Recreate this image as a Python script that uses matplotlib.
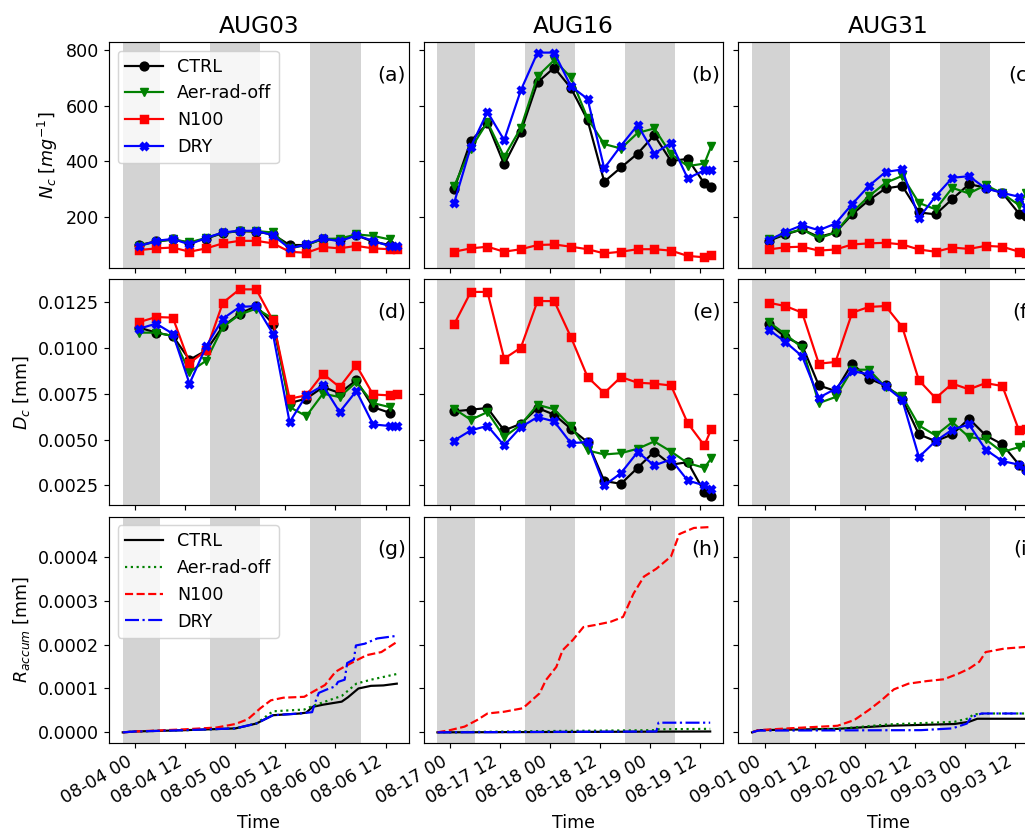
import datetime as dt
import matplotlib
matplotlib.use('Agg')
import matplotlib.pyplot as plt
import matplotlib.dates as mdates

plt.rcParams['font.size'] = 12

cases = ['AUG03', 'AUG16', 'AUG31']
day0 = [dt.datetime(2016, 8, 4), dt.datetime(2016, 8, 17), dt.datetime(2016, 9, 1)]
runs = ['CTRL', 'Aer-rad-off', 'N100', 'DRY']
colors = ['k', 'g', 'r', 'b']
markers = ['o', 'v', 's', 'X']
lstyles = ['-', ':', '--', '-.']

# output hours after day0 (4-hourly, last one is end of run)
t_obs = [1, 5, 9, 13, 17, 21, 25, 29, 33, 37, 41, 45, 49, 53, 57, 61, 62.7]
# night time (shaded), hours after day0
night = [(-3, 6), (18, 30), (42, 54)]

# cloud droplet number Nc [mg-1]
nc_aug03 = {
    'CTRL': [100, 113, 120, 108, 123, 143, 150, 148, 138, 100, 100, 122, 118, 135, 112, 100],
    'Aer-rad-off': [98, 112, 120, 110, 125, 144, 150, 150, 145, 88, 100, 122, 123, 138, 133, 120],
    'N100': [82, 88, 91, 76, 88, 106, 115, 115, 106, 76, 72, 93, 88, 97, 88, 85, 85],
    'DRY': [96, 115, 122, 102, 126, 145, 151, 151, 135, 88, 102, 124, 113, 135, 115, 96, 96],
}
nc_aug16 = {
    'CTRL': [300, 473, 536, 389, 506, 683, 736, 663, 548, 327, 378, 428, 494, 401, 409, 321, 309],
    'Aer-rad-off': [311, 446, 541, 416, 520, 705, 763, 701, 554, 462, 446, 502, 518, 426, 383, 392, 456],
    'N100': [76, 88, 94, 76, 85, 100, 102, 94, 85, 70, 76, 85, 85, 80, 61, 56, 64],
    'DRY': [251, 452, 577, 476, 655, 790, 790, 669, 624, 375, 456, 530, 428, 466, 339, 368, 370],
}
nc_aug31 = {
    'CTRL': [115, 138, 156, 129, 145, 210, 261, 303, 312, 217, 210, 265, 318, 306, 287, 213, 204],
    'Aer-rad-off': [120, 141, 156, 124, 145, 217, 275, 323, 348, 251, 228, 305, 285, 315, 285, 243, 285],
    'N100': [84, 92, 94, 80, 84, 102, 106, 108, 102, 84, 76, 91, 86, 97, 94, 76, 72],
    'DRY': [117, 147, 171, 153, 177, 247, 312, 362, 371, 197, 275, 341, 347, 303, 287, 273, 231],
}

# cloud droplet diameter Dc [mm]
dc_aug03 = {
    'CTRL': [0.01110, 0.01083, 0.01065, 0.00935, 0.00986, 0.01117, 0.01186, 0.01228, 0.01132,
             0.00699, 0.00723, 0.00786, 0.00754, 0.00823, 0.00677, 0.00646],
    'Aer-rad-off': [0.01083, 0.01083, 0.01065, 0.00868, 0.0093, 0.01114, 0.01181, 0.01214, 0.0116,
                    0.00677, 0.00628, 0.0075, 0.00732, 0.00814, 0.00699, 0.00677],
    'N100': [0.01141, 0.01168, 0.01165, 0.00917, 0.00986, 0.01246, 0.01319, 0.01319, 0.0115,
             0.00723, 0.00741, 0.00859, 0.00786, 0.00905, 0.00746, 0.00741, 0.0075],
    'DRY': [0.01105, 0.01132, 0.01077, 0.00805, 0.01008, 0.01159, 0.01223, 0.01228, 0.01077,
            0.00595, 0.00741, 0.00795, 0.0065, 0.00765, 0.00583, 0.00574, 0.00574],
}
dc_aug16 = {
    'CTRL': [0.00654, 0.00663, 0.00672, 0.0055, 0.00586, 0.00672, 0.00636, 0.00559, 0.00486,
             0.00274, 0.00259, 0.00346, 0.00435, 0.00363, 0.00377, 0.00214, 0.00192],
    'Aer-rad-off': [0.00668, 0.00608, 0.0065, 0.00514, 0.00581, 0.0069, 0.00665, 0.00572, 0.00441,
                    0.00419, 0.00426, 0.0045, 0.0049, 0.00435, 0.00372, 0.00346, 0.00399],
    'N100': [0.01128, 0.01305, 0.01305, 0.00941, 0.01001, 0.01255, 0.01255, 0.01059, 0.00841,
             0.00754, 0.00841, 0.0081, 0.00805, 0.00795, 0.0059, 0.00468, 0.00559],
    'DRY': [0.00495, 0.0055, 0.00575, 0.00468, 0.00568, 0.00623, 0.00599, 0.00481, 0.00486,
            0.0025, 0.00317, 0.00432, 0.00359, 0.00392, 0.00277, 0.0025, 0.00232],
}
dc_aug31 = {
    'CTRL': [0.01132, 0.01059, 0.01014, 0.00795, 0.00765, 0.00914, 0.00832, 0.00795, 0.00723,
             0.00528, 0.00492, 0.00528, 0.00614, 0.00523, 0.00474, 0.00363, 0.00332],
    'Aer-rad-off': [0.01141, 0.01074, 0.01001, 0.00699, 0.00732, 0.00881, 0.00881, 0.00786, 0.00736,
                    0.00577, 0.00523, 0.00595, 0.00514, 0.00501, 0.00432, 0.00459, 0.00468],
    'N100': [0.01246, 0.01228, 0.01192, 0.00914, 0.00923, 0.01192, 0.01223, 0.01228, 0.01114,
             0.00823, 0.00726, 0.00805, 0.00774, 0.00808, 0.00792, 0.0055, 0.0056],
    'DRY': [0.01099, 0.01032, 0.00954, 0.00728, 0.00777, 0.00874, 0.00855, 0.0079, 0.00717,
            0.00405, 0.00492, 0.00554, 0.00583, 0.00445, 0.00383, 0.00363, 0.00332],
}

# accumulated rain [1e-4 mm]: (hours after day0, values)
ra_aug03 = {
    'CTRL': ([-3, 0, 12, 24, 29, 33, 39.5, 41, 42.5, 45, 49.5, 51, 53.5, 56.5, 59.5, 62.7],
             [0, 0.02, 0.05, 0.09, 0.2, 0.39, 0.43, 0.45, 0.58, 0.63, 0.70, 0.80, 1.0, 1.06, 1.07, 1.11]),
    'Aer-rad-off': ([-3, 0, 12, 24, 29, 33, 40.5, 42.5, 47, 49.5, 53, 56.5, 62.7],
                    [0, 0.02, 0.05, 0.09, 0.2, 0.48, 0.52, 0.6, 0.75, 0.83, 1.11, 1.2, 1.33]),
    'N100': ([-3, 0, 12, 19.5, 24, 27, 30, 32.5, 35.5, 40.5, 42.5, 45.5, 48, 50, 53, 55.5, 59, 62.7],
             [0, 0.02, 0.07, 0.11, 0.19, 0.3, 0.55, 0.73, 0.79, 0.81, 0.92, 1.08, 1.38, 1.49, 1.64,
              1.76, 1.83, 2.06]),
    'DRY': ([-3, 0, 12, 24, 29, 33, 39.5, 42.4, 43.0, 44.0, 46, 48, 48.6, 50.2, 50.8, 52.4, 52.9,
             55, 58, 62.7],
            [0, 0.02, 0.05, 0.09, 0.2, 0.39, 0.43, 0.46, 0.65, 0.9, 0.98, 1.05, 1.15, 1.2, 1.58,
             1.66, 1.98, 2.02, 2.14, 2.2]),
}
ra_aug16 = {
    'CTRL': ([-3, 62.4], [0, 0.02]),
    'Aer-rad-off': ([-3, 24, 49.5, 50, 62.4], [0, 0.03, 0.05, 0.07, 0.08]),
    'N100': ([-3, 0, 3.5, 6.5, 9, 13, 17.5, 21.5, 23, 25.5, 27, 29.5, 32, 35, 38.5, 41.5, 44, 46.5,
              49.5, 53, 55, 58.5, 62.4],
             [0, 0.05, 0.13, 0.28, 0.43, 0.47, 0.55, 0.89, 1.19, 1.49, 1.87, 2.11, 2.4, 2.45, 2.52,
              2.63, 3.16, 3.55, 3.73, 4.01, 4.52, 4.66, 4.68]),
    'DRY': ([-3, 49.5, 50, 62.4], [0, 0.02, 0.22, 0.22]),
}
ra_aug31 = {
    'CTRL': ([-3, -1.5, 17.5, 29.5, 45.5, 49, 51, 63], [0, 0.05, 0.08, 0.15, 0.19, 0.24, 0.31, 0.31]),
    'Aer-rad-off': ([-3, -1.5, 17.5, 29.5, 45.5, 49, 50, 53.5, 63],
                    [0, 0.05, 0.08, 0.18, 0.24, 0.32, 0.41, 0.43, 0.43]),
    'N100': ([-3, -1.5, 5.5, 17.5, 21.5, 25, 28, 31, 34.5, 39, 43, 46.5, 49, 51.5, 53, 57.5, 63],
             [0, 0.05, 0.09, 0.15, 0.28, 0.51, 0.73, 0.98, 1.11, 1.17, 1.21, 1.34, 1.45, 1.61, 1.83,
              1.91, 1.95]),
    'DRY': ([-3, -1.5, 37.5, 45, 48.5, 49.5, 52, 63], [0, 0.04, 0.05, 0.09, 0.2, 0.34, 0.43, 0.43]),
}

nc_all = [nc_aug03, nc_aug16, nc_aug31]
dc_all = [dc_aug03, dc_aug16, dc_aug31]
ra_all = [ra_aug03, ra_aug16, ra_aug31]
panel = 'abcdefghi'


def to_time(d0, hours):
    return [d0 + dt.timedelta(hours=h) for h in hours]


fig, axes = plt.subplots(3, 3, sharex='col', sharey='row', figsize=(1025 / 105, 829 / 105))
fig.subplots_adjust(left=109 / 1025, right=1038 / 1025, top=1 - 42 / 829, bottom=1 - 742.7 / 829,
                    wspace=0.05, hspace=0.049)

for j in range(3):
    d0 = day0[j]
    for i in range(3):
        ax = axes[i, j]
        for t0, t1 in night:
            ax.axvspan(d0 + dt.timedelta(hours=t0), d0 + dt.timedelta(hours=t1),
                       color='lightgray', lw=0, zorder=0)
    for k, run in enumerate(runs):
        y = nc_all[j][run]
        axes[0, j].plot(to_time(d0, t_obs[:len(y)]), y, color=colors[k], marker=markers[k], label=run)
        y = dc_all[j][run]
        axes[1, j].plot(to_time(d0, t_obs[:len(y)]), y, color=colors[k], marker=markers[k], label=run)
        h, v = ra_all[j][run]
        axes[2, j].plot(to_time(d0, h), [x * 1e-4 for x in v], color=colors[k],
                        linestyle=lstyles[k], label=run)
    axes[0, j].set_title(cases[j], fontsize=16)
    axes[2, j].set_xlim(d0 + dt.timedelta(hours=-6.3), d0 + dt.timedelta(hours=65.55))
    axes[2, j].xaxis.set_major_locator(mdates.HourLocator(byhour=[0, 12]))
    axes[2, j].xaxis.set_major_formatter(mdates.DateFormatter('%m-%d %H'))
    axes[2, j].set_xlabel('Time')
    plt.setp(axes[2, j].get_xticklabels(), rotation=30, ha='right')

for n, ax in enumerate(axes.flat):
    ax.text(0.99, 0.855, '(%s)' % panel[n], transform=ax.transAxes, ha='right', va='center',
            fontsize=14)

axes[0, 0].set_ylim(17, 828)
axes[0, 0].set_yticks([200, 400, 600, 800])
axes[1, 0].set_ylim(0.00141, 0.01374)
axes[1, 0].set_yticks([0.0025, 0.005, 0.0075, 0.01, 0.0125])
axes[2, 0].set_ylim(-0.0000236, 0.000492)
axes[2, 0].set_yticks([0, 0.0001, 0.0002, 0.0003, 0.0004])

axes[0, 0].set_ylabel('$N_c$ [$mg^{-1}$]')
axes[1, 0].set_ylabel('$D_c$ [mm]')
axes[2, 0].set_ylabel('$R_{accum}$ [mm]')
axes[0, 0].legend(loc='upper left', handlelength=2.2)
axes[2, 0].legend(loc='upper left', handlelength=2.2)

fig.savefig('out.png', dpi=105)
